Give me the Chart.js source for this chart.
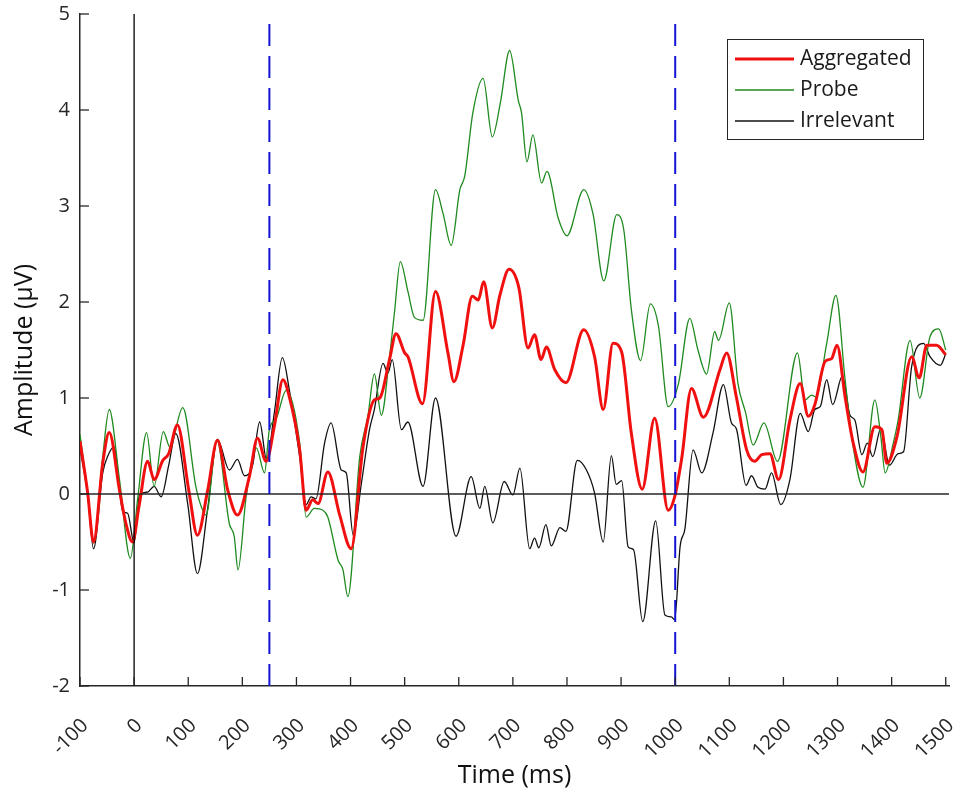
<!DOCTYPE html>
<html>
<head>
<meta charset="utf-8">
<script src="https://cdn.jsdelivr.net/npm/chart.js@4.4.0/dist/chart.umd.min.js"></script>
<style>
  html, body { margin: 0; padding: 0; background: #fff; }
</style>
</head>
<body>
<canvas id="erp" width="965" height="791"></canvas>
<script>
// Grand-average ERP, time in ms, amplitude in µV
const aggTime = [-100, -86, -75, -58, -46, -27, -15, -3, 9, 25, 37, 53, 64, 80, 101, 117, 136, 154, 173, 191, 213, 228, 244, 259, 275, 287, 306, 318, 330, 340, 358, 380, 401, 423, 444, 454, 472, 484, 500, 506, 533, 557, 580, 591, 608, 625, 636, 646, 662, 676, 693, 711, 728, 740, 752, 762, 777, 798, 831, 851, 867, 885, 901, 919, 939, 962, 987, 999, 1012, 1030, 1052, 1083, 1095, 1113, 1132, 1147, 1160, 1175, 1191, 1212, 1231, 1246, 1258, 1277, 1289, 1299, 1314, 1329, 1347, 1369, 1382, 1391, 1410, 1437, 1451, 1465, 1483, 1500]
const aggAmp = [0.55, 0.02, -0.50, 0.32, 0.64, 0.04, -0.31, -0.50, -0.13, 0.34, 0.15, 0.35, 0.42, 0.72, 0.04, -0.43, 0.04, 0.56, 0.04, -0.22, 0.18, 0.58, 0.34, 0.70, 1.19, 1.01, 0.46, -0.17, -0.06, -0.10, 0.23, -0.22, -0.57, 0.49, 0.98, 1.00, 1.40, 1.67, 1.47, 1.43, 0.94, 2.11, 1.47, 1.17, 1.55, 2.06, 2.02, 2.21, 1.73, 2.07, 2.34, 2.15, 1.52, 1.66, 1.40, 1.53, 1.30, 1.16, 1.71, 1.43, 0.88, 1.57, 1.48, 0.63, 0.05, 0.79, -0.17, -0.03, 0.37, 1.10, 0.80, 1.30, 1.47, 1.01, 0.46, 0.34, 0.41, 0.42, 0.15, 0.77, 1.15, 0.81, 0.93, 1.38, 1.41, 1.55, 1.01, 0.53, 0.23, 0.70, 0.67, 0.32, 0.60, 1.43, 1.21, 1.55, 1.55, 1.45]

const probeTime = [-100, -86, -75, -58, -46, -27, -7, 7, 23, 37, 54, 66, 90, 114, 124, 133, 153, 176, 185, 192, 207, 226, 241, 250, 263, 281, 306, 318, 333, 349, 358, 377, 386, 395, 417, 432, 444, 457, 472, 481, 492, 506, 518, 534, 557, 571, 586, 602, 611, 626, 645, 662, 677, 694, 710, 716, 726, 737, 753, 763, 784, 800, 831, 848, 868, 892, 905, 919, 936, 954, 969, 987, 1006, 1027, 1042, 1058, 1073, 1080, 1100, 1116, 1130, 1144, 1164, 1189, 1226, 1240, 1252, 1260, 1280, 1297, 1314, 1329, 1347, 1369, 1380, 1388, 1403, 1412, 1434, 1452, 1471, 1487, 1500]
const probeAmp = [0.62, 0.02, -0.51, 0.39, 0.88, 0.15, -0.67, -0.03, 0.64, 0.08, 0.65, 0.49, 0.90, 0.08, -0.13, -0.22, 0.56, -0.31, -0.44, -0.79, -0.03, 0.48, 0.22, 0.67, 0.79, 1.08, 0.53, -0.24, -0.15, -0.17, -0.24, -0.69, -0.79, -1.07, 0.39, 0.81, 1.25, 0.82, 1.43, 1.88, 2.42, 2.11, 1.84, 1.81, 3.17, 2.92, 2.59, 3.17, 3.31, 3.97, 4.33, 3.72, 4.08, 4.62, 4.10, 3.97, 3.46, 3.74, 3.24, 3.36, 2.87, 2.69, 3.17, 2.92, 2.22, 2.91, 2.75, 1.92, 1.39, 1.98, 1.75, 0.91, 1.15, 1.83, 1.50, 1.25, 1.69, 1.60, 1.99, 1.15, 0.85, 0.51, 0.74, 0.34, 1.47, 0.98, 1.03, 1.01, 1.57, 2.07, 1.19, 0.49, 0.07, 0.98, 0.60, 0.22, 0.53, 0.77, 1.60, 1.00, 1.64, 1.72, 1.50]

const irrTime = [-100, -86, -75, -58, -49, -37, -21, -12, 0, 10, 25, 37, 50, 64, 77, 99, 117, 136, 154, 176, 191, 204, 219, 232, 245, 259, 274, 287, 306, 318, 327, 336, 352, 364, 383, 392, 405, 420, 435, 444, 460, 469, 477, 494, 506, 534, 557, 595, 623, 639, 648, 663, 684, 700, 713, 731, 740, 748, 761, 771, 787, 798, 819, 836, 851, 867, 882, 891, 901, 913, 923, 940, 964, 981, 993, 999, 1009, 1018, 1033, 1049, 1070, 1089, 1104, 1113, 1131, 1141, 1153, 1166, 1178, 1195, 1212, 1231, 1246, 1258, 1268, 1280, 1291, 1309, 1323, 1332, 1345, 1355, 1365, 1380, 1396, 1412, 1422, 1437, 1459, 1471, 1490, 1500]
const irrAmp = [0.48, 0.00, -0.57, 0.22, 0.39, 0.49, -0.18, -0.20, -0.51, -0.01, 0.02, 0.08, -0.03, 0.30, 0.63, -0.10, -0.83, -0.15, 0.57, 0.25, 0.36, 0.19, 0.30, 0.75, 0.35, 0.84, 1.42, 1.08, 0.39, -0.11, -0.03, -0.05, 0.53, 0.74, 0.25, 0.22, -0.43, 0.11, 0.67, 0.88, 1.36, 1.26, 1.40, 0.67, 0.75, 0.08, 1.00, -0.44, 0.18, -0.15, 0.08, -0.30, 0.13, -0.01, 0.27, -0.57, -0.46, -0.56, -0.32, -0.54, -0.35, -0.39, 0.35, 0.25, 0.01, -0.50, 0.40, 0.10, 0.14, -0.55, -0.58, -1.33, -0.28, -1.26, -1.28, -1.31, -0.55, -0.36, 0.46, 0.22, 0.64, 1.14, 0.74, 0.68, 0.09, 0.19, 0.07, 0.05, 0.22, -0.11, 0.15, 0.84, 0.65, 0.88, 0.91, 1.19, 0.93, 1.23, 0.82, 0.77, 0.41, 0.53, 0.39, 0.68, 0.30, 0.42, 0.44, 1.33, 1.57, 1.43, 1.34, 1.46]

const xTicks = [-100, 0, 100, 200, 300, 400, 500, 600, 700, 800, 900, 1000, 1100, 1200, 1300, 1400, 1500]
const yTicks = [-2, -1, 0, 1, 2, 3, 4, 5]
const stimulusOnset = 0
const windowEdges = [250, 1000]

const seriesNames = ["Aggregated", "Probe", "Irrelevant"]
const seriesColors = ["#f01010", "#1f8a1f", "#111111"]
const seriesWidths = [3, 1.3, 1.3]

const FONT = "'Open Sans', 'Noto Sans', sans-serif"
const AXIS = "#262626"

function pairs(times, amps) {
  return times.map((t, i) => ({ x: t, y: amps[i] }))
}

// reference lines, inward tick marks and the boxed legend
const erpDecor = {
  id: "erpDecor",
  afterDatasetsDraw(chart) {
    const { ctx, chartArea: a, scales: { x, y } } = chart
    ctx.save()

    // baseline at 0 µV
    const y0 = y.getPixelForValue(0)
    ctx.strokeStyle = AXIS
    ctx.lineWidth = 1.3
    ctx.beginPath()
    ctx.moveTo(a.left, y0)
    ctx.lineTo(a.right, y0)
    ctx.stroke()

    // stimulus onset
    const xs = x.getPixelForValue(stimulusOnset)
    ctx.strokeStyle = "#000"
    ctx.beginPath()
    ctx.moveTo(xs, a.top)
    ctx.lineTo(xs, a.bottom)
    ctx.stroke()

    // analysis window, dashes run from the bottom up
    ctx.strokeStyle = "#1414d2"
    ctx.lineWidth = 2
    ctx.setLineDash([22, 10])
    windowEdges.forEach(t => {
      const px = x.getPixelForValue(t)
      ctx.beginPath()
      ctx.moveTo(px, a.bottom)
      ctx.lineTo(px, a.top)
      ctx.stroke()
    })
    ctx.setLineDash([])

    // tick marks point into the axes
    ctx.strokeStyle = AXIS
    ctx.lineWidth = 1.3
    yTicks.forEach(v => {
      const py = y.getPixelForValue(v)
      ctx.beginPath()
      ctx.moveTo(a.left, py)
      ctx.lineTo(a.left + 9, py)
      ctx.stroke()
    })
    xTicks.forEach(v => {
      const px = x.getPixelForValue(v)
      ctx.beginPath()
      ctx.moveTo(px, a.bottom)
      ctx.lineTo(px, a.bottom - 9)
      ctx.stroke()
    })

    // legend
    const box = { left: 727, top: 39, width: 196, height: 100 }
    ctx.fillStyle = "#fff"
    ctx.fillRect(box.left, box.top, box.width, box.height)
    ctx.strokeStyle = AXIS
    ctx.lineWidth = 1
    ctx.strokeRect(box.left + 0.5, box.top + 0.5, box.width, box.height)
    ctx.font = "21px " + FONT
    ctx.textBaseline = "middle"
    ctx.textAlign = "left"
    seriesNames.forEach((name, i) => {
      const ly = box.top + 20 + i * 31
      ctx.strokeStyle = seriesColors[i]
      ctx.lineWidth = seriesWidths[i]
      ctx.beginPath()
      ctx.moveTo(box.left + 8, ly)
      ctx.lineTo(box.left + 67, ly)
      ctx.stroke()
      ctx.fillStyle = "#1a1a1a"
      ctx.fillText(name, box.left + 73, ly)
    })
    ctx.restore()
  }
}

const series = [
  [aggTime, aggAmp],
  [probeTime, probeAmp],
  [irrTime, irrAmp]
]

new Chart(document.getElementById("erp"), {
  type: "line",
  data: {
    datasets: series.map(([t, v], i) => ({
      label: seriesNames[i],
      data: pairs(t, v),
      borderColor: seriesColors[i],
      borderWidth: seriesWidths[i],
      pointRadius: 0,
      cubicInterpolationMode: "monotone",
      fill: false
    }))
  },
  options: {
    responsive: false,
    animation: false,
    devicePixelRatio: 1,
    layout: { padding: { top: 14, right: 16, left: 0, bottom: 0 } },
    plugins: {
      legend: { display: false },
      tooltip: { enabled: false }
    },
    scales: {
      x: {
        type: "linear",
        min: -100,
        max: 1506,
        afterBuildTicks: s => { s.ticks = xTicks.map(v => ({ value: v })) },
        afterFit: s => {
          s.height = 105
          s.paddingLeft = 0
          s.paddingRight = 0
        },
        grid: { drawOnChartArea: false, drawTicks: false },
        border: { color: AXIS, width: 1.5 },
        ticks: {
          autoSkip: false,
          minRotation: 45,
          maxRotation: 45,
          padding: 28,
          labelOffset: 5,
          color: AXIS,
          font: { family: FONT, size: 20 },
          callback: v => String(v)
        },
        title: {
          display: true,
          text: "Time (ms)",
          color: "#111",
          padding: { top: 0, bottom: 0 },
          font: { family: FONT, size: 25 }
        }
      },
      y: {
        min: -2,
        max: 5,
        afterBuildTicks: s => { s.ticks = yTicks.map(v => ({ value: v })) },
        afterFit: s => {
          s.width = 80
          s.paddingTop = 0
          s.paddingBottom = 0
        },
        grid: { drawOnChartArea: false, drawTicks: false },
        border: { color: AXIS, width: 1.5 },
        ticks: {
          padding: 10,
          color: AXIS,
          font: { family: FONT, size: 20 },
          callback: v => String(v)
        },
        title: {
          display: true,
          text: "Amplitude (µV)",
          color: "#111",
          padding: { top: 10, bottom: 0 },
          font: { family: FONT, size: 25 }
        }
      }
    }
  },
  plugins: [erpDecor]
})
</script>
</body>
</html>
